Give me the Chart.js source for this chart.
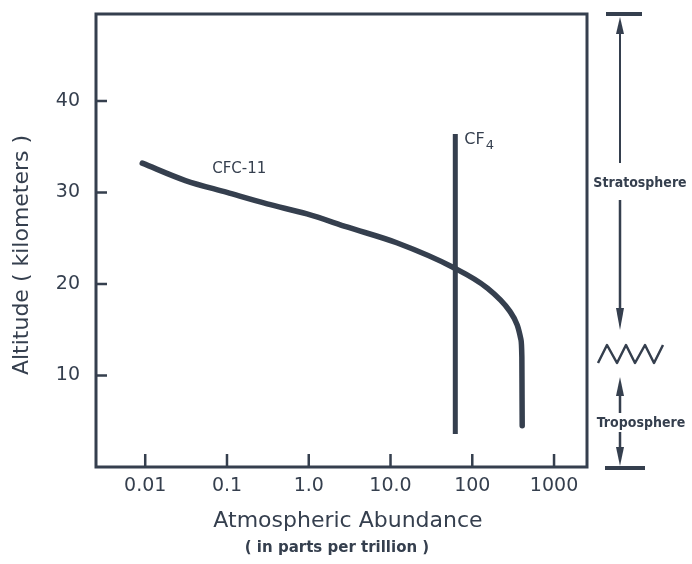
<!DOCTYPE html>
<html>
<head>
<meta charset="utf-8">
<script src="https://cdn.jsdelivr.net/npm/chart.js@4.4.0/dist/chart.umd.min.js"></script>
<style>
  html, body { margin: 0; padding: 0; background: #fff; }
  #wrap { width: 692px; height: 564px; }
</style>
</head>
<body>
<div id="wrap"><canvas id="abundanceChart"></canvas></div>
<script>
// CFC-11 profile (ppt vs km)
var cfc11Abundance = [0.0092, 0.031, 0.1, 0.31, 0.95, 3.0, 11.9, 58.7, 150, 289, 355, 392, 404, 406, 408];
var cfc11Altitude  = [33.2, 31.3, 30.0, 28.75, 27.65, 26.2, 24.5, 21.8, 19.6, 17.0, 15.5, 14.0, 12.0, 8.0, 4.5];

// CF4 is well mixed, one value top to bottom
var cf4Abundance = [62, 62];
var cf4Altitude  = [36.4, 3.6];

var xTickValues = [0.01, 0.1, 1, 10, 100, 1000];
var xTickLabels = ["0.01", "0.1", "1.0", "10.0", "100", "1000"];
var yTickValues = [10, 20, 30, 40];

var ink = "#353f4e";

function toPoints(xs, ys) {
    var pts = [];
    for (var i = 0; i < xs.length; i++) {
        pts.push({x: xs[i], y: ys[i]});
    }
    return pts;
}

function arrowHead(ctx, x, tipY, baseY, half) {
    ctx.beginPath();
    ctx.moveTo(x, tipY);
    ctx.lineTo(x - half, baseY);
    ctx.lineTo(x + half, baseY);
    ctx.closePath();
    ctx.fill();
}

/*=========== frame, inward ticks, titles, side notes ===========*/
var decorations = {
    id: "decorations",
    afterDraw: function(chart) {
        var ctx = chart.ctx;
        var a = chart.chartArea;
        var xs = chart.scales.x, ys = chart.scales.y;
        ctx.save();
        ctx.strokeStyle = ink;
        ctx.fillStyle = ink;

        // box round the plot
        ctx.lineWidth = 3;
        ctx.strokeRect(a.left, a.top, a.right - a.left, a.bottom - a.top);

        // ticks point into the plot
        ctx.lineWidth = 2.5;
        ctx.beginPath();
        xTickValues.forEach(function(v) {
            var px = xs.getPixelForValue(v);
            ctx.moveTo(px, a.bottom);
            ctx.lineTo(px, a.bottom - 13);
        });
        yTickValues.forEach(function(v) {
            var py = ys.getPixelForValue(v);
            ctx.moveTo(a.left, py);
            ctx.lineTo(a.left + 11, py);
        });
        ctx.stroke();

        // axis titles
        ctx.textAlign = "center";
        ctx.textBaseline = "middle";
        ctx.font = "22px 'DejaVu Sans'";
        ctx.fillText("Atmospheric Abundance", 348, 521);
        ctx.font = "bold 15px 'DejaVu Sans'";
        ctx.fillText("( in parts per trillion )", 337, 548);

        ctx.save();
        ctx.translate(22, 255);
        ctx.rotate(-Math.PI / 2);
        ctx.font = "22px 'DejaVu Sans'";
        ctx.fillText("Altitude ( kilometers )", 0, 0);
        ctx.restore();

        // series labels
        ctx.textAlign = "left";
        ctx.font = "15px 'DejaVu Sans'";
        ctx.fillText("CFC-11", xs.getPixelForValue(0.066), ys.getPixelForValue(32.6));
        var cx = xs.getPixelForValue(80), cy = ys.getPixelForValue(35.8);
        ctx.font = "16px 'DejaVu Sans'";
        ctx.fillText("CF", cx, cy);
        var w = ctx.measureText("CF").width;
        ctx.font = "13px 'DejaVu Sans'";
        ctx.fillText("4", cx + w + 1, cy + 6);

        // stratosphere / troposphere marker to the right
        var ax = a.right + 33;
        var top = a.top, bot = a.bottom;
        ctx.lineWidth = 4;
        ctx.beginPath();
        ctx.moveTo(ax - 14, top); ctx.lineTo(ax + 22, top);
        ctx.moveTo(ax - 15, bot + 1); ctx.lineTo(ax + 25, bot + 1);
        ctx.stroke();

        ctx.lineWidth = 2;
        ctx.beginPath();
        ctx.moveTo(ax, 163); ctx.lineTo(ax, top + 10);
        ctx.stroke();
        arrowHead(ctx, ax, top + 3, top + 20, 4);

        ctx.lineWidth = 2.5;
        ctx.beginPath();
        ctx.moveTo(ax, 200); ctx.lineTo(ax, 318);
        ctx.moveTo(ax, 413); ctx.lineTo(ax, 388);
        ctx.moveTo(ax, 432); ctx.lineTo(ax, 455);
        ctx.stroke();
        arrowHead(ctx, ax, 330, 308, 4);
        arrowHead(ctx, ax, 377, 396, 4);
        arrowHead(ctx, ax, bot - 1, bot - 20, 4);

        // tropopause zigzag
        ctx.lineWidth = 2.5;
        ctx.lineJoin = "round";
        ctx.beginPath();
        var zx = [598, 607, 617, 626, 635, 645, 654, 663];
        for (var i = 0; i < zx.length; i++) {
            var zy = (i % 2 === 0) ? 363 : 345;
            if (i === 0) ctx.moveTo(zx[i], zy); else ctx.lineTo(zx[i], zy);
        }
        ctx.stroke();

        ctx.textAlign = "center";
        ctx.font = "bold 14px 'DejaVu Sans Condensed', 'DejaVu Sans'";
        ctx.fillText("Stratosphere", 640, 183);
        ctx.fillText("Troposphere", 641, 423);

        ctx.restore();
    }
};

var ctxChart = document.getElementById("abundanceChart").getContext("2d");
var abundanceChart = new Chart(ctxChart, {
    type: "line",
    data: {
        datasets: [{
            label: "CFC-11",
            data: toPoints(cfc11Abundance, cfc11Altitude),
            borderColor: ink,
            borderWidth: 5.5,
            borderCapStyle: "round",
            borderJoinStyle: "round",
            cubicInterpolationMode: "monotone",
            pointRadius: 0,
            fill: false
        }, {
            label: "CF4",
            data: toPoints(cf4Abundance, cf4Altitude),
            borderColor: ink,
            borderWidth: 5,
            pointRadius: 0,
            fill: false
        }]
    },
    options: {
        responsive: true,
        maintainAspectRatio: false,
        animation: false,
        layout: {
            padding: {top: 14, right: 105, bottom: 0, left: 0}
        },
        plugins: {
            legend: {display: false},
            tooltip: {enabled: false}
        },
        scales: {
            x: {
                type: "logarithmic",
                min: 0.0025,
                max: 2530,
                grid: {display: false, drawTicks: false},
                border: {display: false},
                afterBuildTicks: function(scale) {
                    scale.ticks = xTickValues.map(function(v) { return {value: v}; });
                },
                afterFit: function(scale) {
                    scale.height = 97;
                    scale.paddingLeft = 0;
                    scale.paddingRight = 0;
                },
                ticks: {
                    autoSkip: false,
                    maxRotation: 0,
                    padding: 8,
                    color: ink,
                    font: {family: "DejaVu Sans", size: 19},
                    callback: function(value) {
                        var i = xTickValues.indexOf(value);
                        return i >= 0 ? xTickLabels[i] : "";
                    }
                }
            },
            y: {
                type: "linear",
                min: 0,
                max: 49.5,
                grid: {display: false, drawTicks: false},
                border: {display: false},
                afterBuildTicks: function(scale) {
                    scale.ticks = yTickValues.map(function(v) { return {value: v}; });
                },
                afterFit: function(scale) {
                    scale.width = 96;
                    scale.paddingTop = 0;
                    scale.paddingBottom = 0;
                },
                ticks: {
                    padding: 16,
                    color: ink,
                    font: {family: "DejaVu Sans", size: 19}
                }
            }
        }
    },
    plugins: [decorations]
});
</script>
</body>
</html>
